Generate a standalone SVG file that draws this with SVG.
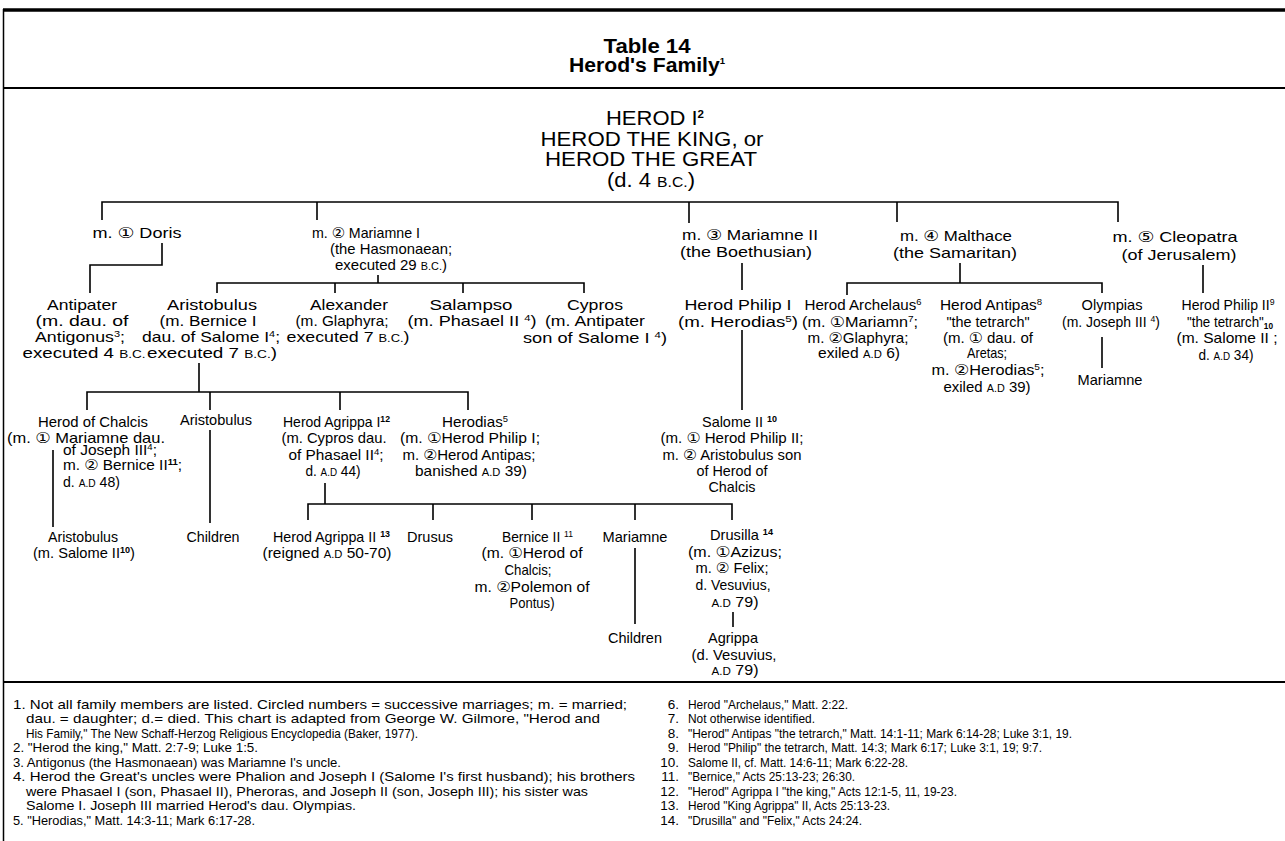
<svg xmlns="http://www.w3.org/2000/svg" width="1285" height="841" viewBox="0 0 1285 841">
<style>
text{font-family:"Liberation Sans",Arial,sans-serif;fill:#000}
.n{font-size:14.5px;text-anchor:middle}
.l{text-anchor:start}
.big{font-size:21px;text-anchor:middle}
.ttl{font-size:20px;font-weight:bold;text-anchor:middle}
.f{font-size:13.5px}
.fe{font-size:13.5px;text-anchor:end}
.s{font-size:9px;baseline-shift:5px}
.sb{font-size:9px;baseline-shift:5px;font-weight:bold}
.k{font-size:10.5px}
.c{font-family:"DejaVu Sans","Noto Sans CJK JP",sans-serif;font-size:15px}
.ln{fill:none;stroke:#000;stroke-width:1.6}
.fr{fill:none;stroke:#000}
</style>
<rect width="1285" height="841" fill="#fff"/>
<g id="frame">
<path class="fr" d="M3,10H1285" stroke-width="3.5"/>
<path class="fr" d="M3.5,9V841" stroke-width="1.5"/>
<path class="fr" d="M3,88H1285" stroke-width="2.2" stroke="#222"/>
<path class="fr" d="M3,682H1285" stroke-width="2.2" stroke="#222"/>
</g>
<g id="title">
<text class="ttl" x="647" y="53" textLength="87" lengthAdjust="spacingAndGlyphs">Table 14</text>
<text class="ttl" x="647" y="72" textLength="156" lengthAdjust="spacingAndGlyphs">Herod's Family<tspan class="s" style="baseline-shift:8px">1</tspan></text>
</g>
<g id="connectors">
<path class="ln" d="M102,220V202H1118V222M317,202V220M689,202V223M897,202V222
M162,243V265H90V293
M378,275V283M217,293V283H584V293M335,283V293M463,283V293
M742,263V290M742,330V410
M960,263V283M847,295V283H1102V293
M1203,265V293
M1102,337V368
M199,363V392M87,410V392H468V410M210,392V410M340,392V410
M53,450V527
M210,430V523
M325,483V504M308,520V504H732V520M433,504V520M532,504V520M635,504V520
M635,548V624
M733,612V627"/>
</g>
<g id="herod">
<text class="big" x="655" y="125" textLength="98" lengthAdjust="spacingAndGlyphs">HEROD I<tspan class="sb" style="font-size:11px;baseline-shift:7px">2</tspan></text>
<text class="big" x="652" y="146" textLength="223" lengthAdjust="spacingAndGlyphs">HEROD THE KING, or</text>
<text class="big" x="651" y="166" textLength="212" lengthAdjust="spacingAndGlyphs">HEROD THE GREAT</text>
<text class="big" x="651" y="187" textLength="88" lengthAdjust="spacingAndGlyphs">(d. 4 <tspan style="font-size:15px">B.C.</tspan>)</text>
</g>
<g id="doris">
<text class="n" x="137" y="238" textLength="89" lengthAdjust="spacingAndGlyphs" font-size="16px">m. <tspan class="c">①</tspan> Doris</text>
</g>
<g id="mariamne1">
<text class="n" x="366" y="238" textLength="108" lengthAdjust="spacingAndGlyphs">m. <tspan class="c">②</tspan> Mariamne I</text>
<text class="n" x="391" y="254" textLength="122" lengthAdjust="spacingAndGlyphs">(the Hasmonaean;</text>
<text class="n" x="391" y="270" textLength="112" lengthAdjust="spacingAndGlyphs">executed 29 <tspan class="k">B.C.</tspan>)</text>
</g>
<g id="mariamne2">
<text class="n" x="750" y="240" textLength="136" lengthAdjust="spacingAndGlyphs" font-size="16px">m. <tspan class="c">③</tspan> Mariamne II</text>
<text class="n" x="746" y="257" textLength="132" lengthAdjust="spacingAndGlyphs" font-size="16px">(the Boethusian)</text>
</g>
<g id="malthace">
<text class="n" x="956" y="241" textLength="112" lengthAdjust="spacingAndGlyphs" font-size="16px">m. <tspan class="c">④</tspan> Malthace</text>
<text class="n" x="955" y="258" textLength="124" lengthAdjust="spacingAndGlyphs" font-size="16px">(the Samaritan)</text>
</g>
<g id="cleopatra">
<text class="n" x="1175" y="242" textLength="125" lengthAdjust="spacingAndGlyphs" font-size="16px">m. <tspan class="c">⑤</tspan> Cleopatra</text>
<text class="n" x="1179" y="260" textLength="115" lengthAdjust="spacingAndGlyphs" font-size="16px">(of Jerusalem)</text>
</g>
<g id="antipater">
<text class="n" x="82" y="310" textLength="70" lengthAdjust="spacingAndGlyphs" font-size="16px">Antipater</text>
<text class="n" x="82" y="326" textLength="93" lengthAdjust="spacingAndGlyphs" font-size="16px">(m. dau. of</text>
<text class="n" x="80" y="342" textLength="90" lengthAdjust="spacingAndGlyphs" font-size="16px">Antigonus<tspan class="s">3</tspan>;</text>
<text class="n" x="84" y="358" textLength="123" lengthAdjust="spacingAndGlyphs" font-size="16px">executed 4 <tspan class="k">B.C.</tspan></text>
</g>
<g id="aristobulus1">
<text class="n" x="212" y="310" textLength="90" lengthAdjust="spacingAndGlyphs" font-size="16px">Aristobulus</text>
<text class="n" x="208" y="326" textLength="97" lengthAdjust="spacingAndGlyphs" font-size="16px">(m. Bernice I</text>
<text class="n" x="211" y="342" textLength="138" lengthAdjust="spacingAndGlyphs" font-size="16px">dau. of Salome I<tspan class="s">4</tspan>;</text>
<text class="n" x="212" y="358" textLength="130" lengthAdjust="spacingAndGlyphs" font-size="16px">executed 7 <tspan class="k">B.C.</tspan>)</text>
</g>
<g id="alexander">
<text class="n" x="349" y="310" textLength="78" lengthAdjust="spacingAndGlyphs" font-size="16px">Alexander</text>
<text class="n" x="342" y="326" textLength="93" lengthAdjust="spacingAndGlyphs" font-size="16px">(m. Glaphyra;</text>
<text class="n" x="348" y="342" textLength="123" lengthAdjust="spacingAndGlyphs" font-size="16px">executed 7 <tspan class="k">B.C.</tspan>)</text>
</g>
<g id="salampso">
<text class="n" x="471" y="310" textLength="83" lengthAdjust="spacingAndGlyphs" font-size="16px">Salampso</text>
<text class="n" x="472" y="326" textLength="129" lengthAdjust="spacingAndGlyphs" font-size="16px">(m. Phasael II <tspan class="s">4</tspan>)</text>
</g>
<g id="cypros">
<text class="n" x="595" y="310" textLength="56" lengthAdjust="spacingAndGlyphs" font-size="16px">Cypros</text>
<text class="n" x="595" y="326" textLength="100" lengthAdjust="spacingAndGlyphs" font-size="16px">(m. Antipater</text>
<text class="n" x="595" y="343" textLength="144" lengthAdjust="spacingAndGlyphs" font-size="16px">son of Salome I <tspan class="s">4</tspan>)</text>
</g>
<g id="philip1">
<text class="n" x="738" y="310" textLength="107" lengthAdjust="spacingAndGlyphs" font-size="16px">Herod Philip I</text>
<text class="n" x="738" y="327" textLength="120" lengthAdjust="spacingAndGlyphs" font-size="16px">(m. Herodias<tspan class="s">5</tspan>)</text>
</g>
<g id="archelaus">
<text class="n" x="863" y="310" textLength="117" lengthAdjust="spacingAndGlyphs">Herod Archelaus<tspan class="s">6</tspan></text>
<text class="n" x="860" y="327" textLength="116" lengthAdjust="spacingAndGlyphs">(m. <tspan class="c">①</tspan>Mariamn<tspan class="s">7</tspan>;</text>
<text class="n" x="858" y="343" textLength="101" lengthAdjust="spacingAndGlyphs">m. <tspan class="c">②</tspan>Glaphyra;</text>
<text class="n" x="859" y="358" textLength="82" lengthAdjust="spacingAndGlyphs">exiled <tspan class="k">A.D</tspan> 6)</text>
</g>
<g id="antipas">
<text class="n" x="991" y="310" textLength="102" lengthAdjust="spacingAndGlyphs">Herod Antipas<tspan class="s">8</tspan></text>
<text class="n" x="988" y="327" textLength="83" lengthAdjust="spacingAndGlyphs">"the tetrarch"</text>
<text class="n" x="988" y="343" textLength="90" lengthAdjust="spacingAndGlyphs">(m. <tspan class="c">①</tspan> dau. of</text>
<text class="n" x="987" y="358" textLength="40" lengthAdjust="spacingAndGlyphs">Aretas;</text>
<text class="n" x="988" y="375" textLength="113" lengthAdjust="spacingAndGlyphs">m. <tspan class="c">②</tspan>Herodias<tspan class="s">5</tspan>;</text>
<text class="n" x="987" y="392" textLength="87" lengthAdjust="spacingAndGlyphs">exiled <tspan class="k">A.D</tspan> 39)</text>
</g>
<g id="olympias">
<text class="n" x="1112" y="310" textLength="61" lengthAdjust="spacingAndGlyphs">Olympias</text>
<text class="n" x="1111" y="327" textLength="98" lengthAdjust="spacingAndGlyphs">(m. Joseph III <tspan class="s">4</tspan>)</text>
</g>
<g id="mariamne-olympias">
<text class="n" x="1110" y="385" textLength="65" lengthAdjust="spacingAndGlyphs">Mariamne</text>
</g>
<g id="philip2">
<text class="n" x="1228" y="310" textLength="93" lengthAdjust="spacingAndGlyphs">Herod Philip II<tspan class="s">9</tspan></text>
<text class="n" x="1230" y="327" textLength="86" lengthAdjust="spacingAndGlyphs">"the tetrarch"<tspan class="sb" style="baseline-shift:-2px">10</tspan></text>
<text class="n" x="1227" y="343" textLength="101" lengthAdjust="spacingAndGlyphs">(m. Salome II  ;</text>
<text class="n" x="1226" y="360" textLength="55" lengthAdjust="spacingAndGlyphs">d. <tspan class="k">A.D</tspan> 34)</text>
</g>
<g id="chalcis">
<text class="n" x="93" y="427" textLength="110" lengthAdjust="spacingAndGlyphs">Herod of Chalcis</text>
<text class="n" x="86" y="443" textLength="158" lengthAdjust="spacingAndGlyphs">(m. <tspan class="c">①</tspan> Mariamne dau.</text>
<text class="n l" x="63" y="455" textLength="94" lengthAdjust="spacingAndGlyphs">of Joseph III<tspan class="s">4</tspan>;</text>
<text class="n l" x="63" y="470" textLength="119" lengthAdjust="spacingAndGlyphs">m. <tspan class="c">②</tspan> Bernice II<tspan class="sb">11</tspan>;</text>
<text class="n l" x="63" y="487" textLength="57" lengthAdjust="spacingAndGlyphs">d. <tspan class="k">A.D</tspan> 48)</text>
</g>
<g id="aristobulus2">
<text class="n" x="216" y="425" textLength="72" lengthAdjust="spacingAndGlyphs">Aristobulus</text>
</g>
<g id="agrippa1">
<text class="n l" x="283" y="427" textLength="107" lengthAdjust="spacingAndGlyphs">Herod Agrippa I<tspan class="sb">12</tspan></text>
<text class="n" x="334" y="443" textLength="105" lengthAdjust="spacingAndGlyphs">(m. Cypros dau.</text>
<text class="n" x="336" y="460" textLength="95" lengthAdjust="spacingAndGlyphs">of Phasael II<tspan class="s">4</tspan>;</text>
<text class="n" x="333" y="476" textLength="55" lengthAdjust="spacingAndGlyphs">d. <tspan class="k">A.D</tspan> 44)</text>
</g>
<g id="herodias">
<text class="n l" x="442" y="427" textLength="66" lengthAdjust="spacingAndGlyphs">Herodias<tspan class="s">5</tspan></text>
<text class="n" x="470" y="443" textLength="140" lengthAdjust="spacingAndGlyphs">(m. <tspan class="c">①</tspan>Herod Philip I;</text>
<text class="n" x="469" y="460" textLength="133" lengthAdjust="spacingAndGlyphs">m. <tspan class="c">②</tspan>Herod Antipas;</text>
<text class="n" x="471" y="476" textLength="112" lengthAdjust="spacingAndGlyphs">banished <tspan class="k">A.D</tspan> 39)</text>
</g>
<g id="salome2">
<text class="n l" x="702" y="427" textLength="75" lengthAdjust="spacingAndGlyphs">Salome II <tspan class="sb">10</tspan></text>
<text class="n" x="732" y="443" textLength="143" lengthAdjust="spacingAndGlyphs">(m. <tspan class="c">①</tspan> Herod Philip II;</text>
<text class="n" x="732" y="460" textLength="139" lengthAdjust="spacingAndGlyphs">m. <tspan class="c">②</tspan> Aristobulus son</text>
<text class="n" x="732" y="476" textLength="71" lengthAdjust="spacingAndGlyphs">of Herod of</text>
<text class="n" x="732" y="492" textLength="47" lengthAdjust="spacingAndGlyphs">Chalcis</text>
</g>
<g id="aristobulus3">
<text class="n" x="83" y="542" textLength="70" lengthAdjust="spacingAndGlyphs">Aristobulus</text>
<text class="n" x="84" y="558" textLength="102" lengthAdjust="spacingAndGlyphs">(m. Salome II<tspan class="sb">10</tspan>)</text>
</g>
<g id="children1">
<text class="n" x="213" y="542" textLength="53" lengthAdjust="spacingAndGlyphs">Children</text>
</g>
<g id="agrippa2">
<text class="n l" x="273" y="542" textLength="117" lengthAdjust="spacingAndGlyphs">Herod Agrippa II <tspan class="sb">13</tspan></text>
<text class="n" x="327" y="558" textLength="129" lengthAdjust="spacingAndGlyphs">(reigned <tspan class="k">A.D</tspan> 50-70)</text>
</g>
<g id="drusus">
<text class="n" x="430" y="542" textLength="46" lengthAdjust="spacingAndGlyphs">Drusus</text>
</g>
<g id="bernice2">
<text class="n l" x="502" y="542" textLength="71" lengthAdjust="spacingAndGlyphs">Bernice II <tspan class="s">11</tspan></text>
<text class="n" x="532" y="558" textLength="101" lengthAdjust="spacingAndGlyphs">(m. <tspan class="c">①</tspan>Herod of</text>
<text class="n" x="528" y="575" textLength="47" lengthAdjust="spacingAndGlyphs">Chalcis;</text>
<text class="n" x="532" y="592" textLength="115" lengthAdjust="spacingAndGlyphs">m. <tspan class="c">②</tspan>Polemon of</text>
<text class="n" x="532" y="608" textLength="45" lengthAdjust="spacingAndGlyphs">Pontus)</text>
</g>
<g id="mariamne3">
<text class="n" x="635" y="542" textLength="65" lengthAdjust="spacingAndGlyphs">Mariamne</text>
</g>
<g id="children2">
<text class="n" x="635" y="643" textLength="54" lengthAdjust="spacingAndGlyphs">Children</text>
</g>
<g id="drusilla">
<text class="n l" x="710" y="540" textLength="63" lengthAdjust="spacingAndGlyphs">Drusilla <tspan class="sb">14</tspan></text>
<text class="n" x="735" y="557" textLength="94" lengthAdjust="spacingAndGlyphs">(m. <tspan class="c">①</tspan>Azizus;</text>
<text class="n" x="732" y="573" textLength="73" lengthAdjust="spacingAndGlyphs">m. <tspan class="c">②</tspan> Felix;</text>
<text class="n" x="733" y="590" textLength="75" lengthAdjust="spacingAndGlyphs">d. Vesuvius,</text>
<text class="n" x="735" y="607" textLength="47" lengthAdjust="spacingAndGlyphs"><tspan class="k">A.D</tspan> 79)</text>
</g>
<g id="agrippa">
<text class="n" x="733" y="643" textLength="50" lengthAdjust="spacingAndGlyphs">Agrippa</text>
<text class="n" x="734" y="660" textLength="85" lengthAdjust="spacingAndGlyphs">(d. Vesuvius,</text>
<text class="n" x="735" y="675" textLength="47" lengthAdjust="spacingAndGlyphs"><tspan class="k">A.D</tspan> 79)</text>
</g>
<g id="footnotes">
<text class="f" x="13" y="709" textLength="614" lengthAdjust="spacingAndGlyphs">1. Not all family members are listed. Circled numbers = successive marriages; m. = married;</text>
<text class="f" x="26" y="723" textLength="574" lengthAdjust="spacingAndGlyphs">dau. = daughter; d.= died. This chart is adapted from George W. Gilmore, "Herod and</text>
<text class="f" x="26" y="738" textLength="392" lengthAdjust="spacingAndGlyphs">His Family," The New Schaff-Herzog Religious Encyclopedia (Baker, 1977).</text>
<text class="f" x="13" y="752" textLength="245" lengthAdjust="spacingAndGlyphs">2. "Herod the king," Matt. 2:7-9; Luke 1:5.</text>
<text class="f" x="13" y="767" textLength="328" lengthAdjust="spacingAndGlyphs">3. Antigonus (the Hasmonaean) was Mariamne I's uncle.</text>
<text class="f" x="13" y="781" textLength="622" lengthAdjust="spacingAndGlyphs">4. Herod the Great's uncles were Phalion and Joseph I (Salome I's first husband); his brothers</text>
<text class="f" x="26" y="796" textLength="562" lengthAdjust="spacingAndGlyphs">were Phasael I (son, Phasael II), Pheroras, and Joseph II (son, Joseph III); his sister was</text>
<text class="f" x="26" y="810" textLength="330" lengthAdjust="spacingAndGlyphs">Salome I. Joseph III married Herod's dau. Olympias.</text>
<text class="f" x="13" y="825" textLength="242" lengthAdjust="spacingAndGlyphs">5. "Herodias," Matt. 14:3-11; Mark 6:17-28.</text>
<text class="fe" x="679" y="709">6.</text>
<text class="fe" x="679" y="723">7.</text>
<text class="fe" x="679" y="738">8.</text>
<text class="fe" x="679" y="752">9.</text>
<text class="fe" x="679" y="767">10.</text>
<text class="fe" x="679" y="781">11.</text>
<text class="fe" x="679" y="796">12.</text>
<text class="fe" x="679" y="810">13.</text>
<text class="fe" x="679" y="825">14.</text>
<text class="f" x="688" y="709" textLength="160" lengthAdjust="spacingAndGlyphs">Herod "Archelaus," Matt. 2:22.</text>
<text class="f" x="688" y="723" textLength="127" lengthAdjust="spacingAndGlyphs">Not otherwise identified.</text>
<text class="f" x="688" y="738" textLength="384" lengthAdjust="spacingAndGlyphs">"Herod" Antipas "the tetrarch," Matt. 14:1-11; Mark 6:14-28; Luke 3:1, 19.</text>
<text class="f" x="688" y="752" textLength="354" lengthAdjust="spacingAndGlyphs">Herod "Philip" the tetrarch, Matt. 14:3; Mark 6:17; Luke 3:1, 19; 9:7.</text>
<text class="f" x="688" y="767" textLength="220" lengthAdjust="spacingAndGlyphs">Salome II, cf. Matt. 14:6-11; Mark 6:22-28.</text>
<text class="f" x="688" y="781" textLength="167" lengthAdjust="spacingAndGlyphs">"Bernice," Acts 25:13-23; 26:30.</text>
<text class="f" x="688" y="796" textLength="269" lengthAdjust="spacingAndGlyphs">"Herod" Agrippa I "the king," Acts 12:1-5, 11, 19-23.</text>
<text class="f" x="688" y="810" textLength="202" lengthAdjust="spacingAndGlyphs">Herod "King Agrippa" II, Acts 25:13-23.</text>
<text class="f" x="688" y="825" textLength="174" lengthAdjust="spacingAndGlyphs">"Drusilla" and "Felix," Acts 24:24.</text>
</g>
</svg>
